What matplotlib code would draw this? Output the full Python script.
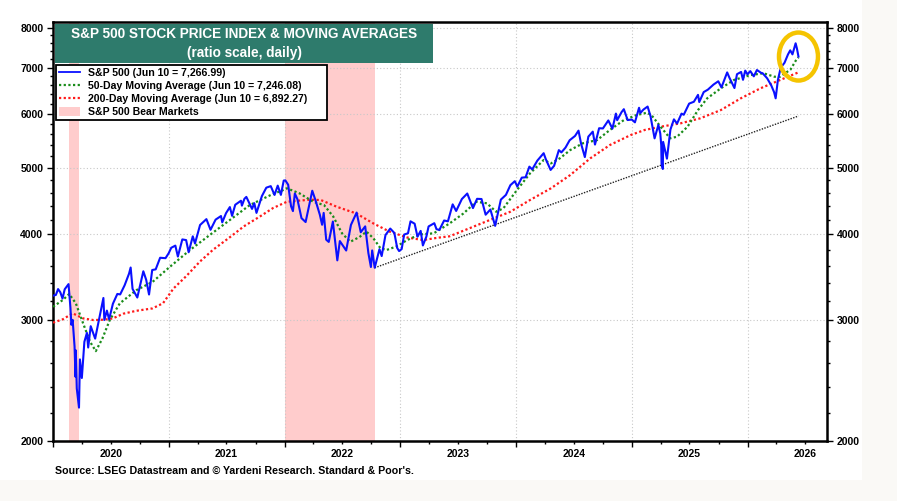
import pandas as pd
import matplotlib
matplotlib.use('Agg')
import matplotlib.pyplot as plt
import matplotlib.dates as mdates
from matplotlib.patches import Rectangle, Ellipse, Patch
from matplotlib.lines import Line2D
from matplotlib.transforms import ScaledTranslation
from matplotlib.ticker import FixedLocator, NullFormatter, FuncFormatter

plt.rcParams['font.family'] = ['Liberation Sans', 'DejaVu Sans']
plt.rcParams['font.weight'] = 'bold'

# S&P 500 index
sp_dates = [
    "2020-01-02", "2020-01-10", "2020-01-17", "2020-01-24", "2020-01-31", "2020-02-07", "2020-02-19", "2020-02-25",
    "2020-02-28", "2020-03-03", "2020-03-09", "2020-03-12", "2020-03-13", "2020-03-16", "2020-03-23", "2020-03-26",
    "2020-04-01", "2020-04-09", "2020-04-17", "2020-04-21", "2020-04-29", "2020-05-13", "2020-05-27", "2020-06-08",
    "2020-06-11", "2020-06-19", "2020-06-26", "2020-07-08", "2020-07-22", "2020-07-31", "2020-08-14", "2020-08-28",
    "2020-09-02", "2020-09-08", "2020-09-23", "2020-10-12", "2020-10-21", "2020-10-30", "2020-11-09", "2020-11-20",
    "2020-12-04", "2020-12-21", "2020-12-31",
    "2021-01-08", "2021-01-21", "2021-01-29", "2021-02-12", "2021-02-24", "2021-03-04", "2021-03-17", "2021-03-24",
    "2021-04-09", "2021-04-29", "2021-05-12", "2021-05-28", "2021-06-14", "2021-06-18", "2021-06-30", "2021-07-12",
    "2021-07-19", "2021-07-29", "2021-08-16", "2021-08-19", "2021-08-27", "2021-09-02", "2021-09-20", "2021-09-27",
    "2021-10-04", "2021-10-21", "2021-11-04", "2021-11-18", "2021-11-30", "2021-12-10", "2021-12-20", "2021-12-29",
    "2022-01-03", "2022-01-12", "2022-01-21", "2022-01-27", "2022-02-02", "2022-02-10", "2022-02-23", "2022-03-08",
    "2022-03-29", "2022-04-08", "2022-04-22", "2022-04-29", "2022-05-04", "2022-05-12", "2022-05-20", "2022-06-02",
    "2022-06-16", "2022-06-24", "2022-07-14", "2022-07-29", "2022-08-16", "2022-08-29", "2022-09-12", "2022-09-22",
    "2022-09-30", "2022-10-04", "2022-10-12", "2022-10-27", "2022-11-03", "2022-11-15", "2022-11-30", "2022-12-13",
    "2022-12-22", "2022-12-28",
    "2023-01-05", "2023-01-13", "2023-01-25", "2023-02-02", "2023-02-15", "2023-02-24", "2023-03-06", "2023-03-13",
    "2023-03-24", "2023-03-31", "2023-04-18", "2023-04-25", "2023-05-04", "2023-05-19", "2023-05-31", "2023-06-15",
    "2023-06-26", "2023-07-14", "2023-07-31", "2023-08-18", "2023-08-31", "2023-09-14", "2023-09-27", "2023-10-12",
    "2023-10-27", "2023-11-14", "2023-11-30", "2023-12-14", "2023-12-28",
    "2024-01-05", "2024-01-19", "2024-01-31", "2024-02-12", "2024-02-21", "2024-03-08", "2024-03-28", "2024-04-04",
    "2024-04-19", "2024-04-30", "2024-05-15", "2024-05-23", "2024-06-05", "2024-06-18", "2024-07-05", "2024-07-16",
    "2024-07-24", "2024-08-05", "2024-08-16", "2024-08-30", "2024-09-06", "2024-09-19", "2024-10-01", "2024-10-18",
    "2024-10-31", "2024-11-11", "2024-11-15", "2024-11-29", "2024-12-06", "2024-12-18", "2024-12-31",
    "2025-01-10", "2025-01-23", "2025-01-27", "2025-02-06", "2025-02-19", "2025-02-28", "2025-03-10", "2025-03-13",
    "2025-03-25", "2025-03-31", "2025-04-03", "2025-04-04", "2025-04-08", "2025-04-09", "2025-04-21", "2025-05-02",
    "2025-05-13", "2025-05-23", "2025-06-06", "2025-06-13", "2025-06-30", "2025-07-15", "2025-07-28", "2025-08-01",
    "2025-08-15", "2025-08-28", "2025-09-15", "2025-09-30", "2025-10-10", "2025-10-28", "2025-11-04", "2025-11-20",
    "2025-11-28", "2025-12-11", "2025-12-17", "2025-12-24", "2025-12-31",
    "2026-01-09", "2026-01-20", "2026-01-30", "2026-02-12", "2026-02-17", "2026-03-03", "2026-03-16", "2026-03-25",
    "2026-03-30", "2026-04-06", "2026-04-15", "2026-04-27", "2026-05-08", "2026-05-15", "2026-05-22", "2026-06-01",
    "2026-06-05", "2026-06-10",
]
sp_close = [
    3258, 3265, 3330, 3295, 3226, 3328, 3386, 3128,
    2954, 3003, 2747, 2481, 2711, 2386, 2237, 2630,
    2471, 2790, 2875, 2737, 2940, 2820, 3036, 3232,
    3002, 3098, 3009, 3170, 3276, 3271, 3373, 3508,
    3580, 3332, 3237, 3535, 3435, 3270, 3550, 3558,
    3699, 3694, 3756,
    3825, 3853, 3714, 3934, 3925, 3768, 3975, 3881,
    4129, 4211, 4063, 4204, 4255, 4166, 4297, 4385,
    4258, 4419, 4479, 4406, 4509, 4537, 4358, 4443,
    4300, 4549, 4680, 4704, 4567, 4712, 4568, 4793,
    4796, 4726, 4398, 4326, 4589, 4504, 4225, 4170,
    4632, 4488, 4272, 4132, 4300, 3930, 3901, 4177,
    3667, 3912, 3790, 4130, 4305, 4030, 4110, 3758,
    3586, 3791, 3577, 3807, 3720, 3992, 4080, 4020,
    3822, 3783,
    3808, 3999, 4016, 4180, 4147, 3970, 4048, 3855,
    3971, 4109, 4154, 4071, 4061, 4192, 4180, 4425,
    4328, 4505, 4589, 4370, 4508, 4505, 4274, 4349,
    4117, 4496, 4568, 4719, 4783,
    4697, 4840, 4846, 5022, 4976, 5124, 5254, 5147,
    4967, 5036, 5308, 5268, 5354, 5487, 5567, 5667,
    5427, 5186, 5554, 5648, 5408, 5713, 5709, 5864,
    5705, 6001, 5870, 6032, 6090, 5872, 5882,
    5827, 6119, 6012, 6083, 6144, 5955, 5614, 5522,
    5777, 5612, 5397, 5074, 4983, 5457, 5158, 5687,
    5886, 5803, 6000, 5977, 6205, 6244, 6390, 6238,
    6450, 6502, 6615, 6688, 6552, 6890, 6771, 6538,
    6849, 6901, 6721, 6932, 6845,
    6920, 6800, 6946, 6880, 6870, 6757, 6598, 6449,
    6316, 6716, 7000, 7117, 7320, 7420, 7320, 7597,
    7470, 7267,
]

# 50-day moving average
ma50_dates = [
    "2020-01-01", "2020-02-01", "2020-02-21", "2020-03-13", "2020-04-05", "2020-04-27", "2020-05-15", "2020-06-05",
    "2020-06-28", "2020-07-30", "2020-09-20", "2020-11-10", "2021-01-04", "2021-03-08", "2021-05-12", "2021-07-13",
    "2021-09-13", "2021-11-18", "2021-12-28", "2022-01-08", "2022-02-17", "2022-04-01", "2022-05-05", "2022-06-03",
    "2022-07-01", "2022-07-27", "2022-08-25", "2022-09-16", "2022-10-08", "2022-10-30", "2022-11-18", "2022-12-20",
    "2023-01-22", "2023-03-03", "2023-04-16", "2023-06-05", "2023-07-19", "2023-08-28", "2023-10-01", "2023-10-30",
    "2023-11-22", "2024-01-04", "2024-02-14", "2024-03-28", "2024-04-20", "2024-05-18", "2024-06-20", "2024-07-30",
    "2024-09-13", "2024-10-23", "2024-12-06", "2025-01-15", "2025-02-17", "2025-03-03", "2025-04-01", "2025-05-01",
    "2025-05-23", "2025-06-25", "2025-07-28", "2025-08-26", "2025-10-08", "2025-11-18", "2026-01-10", "2026-02-20",
    "2026-03-26", "2026-04-13", "2026-05-16", "2026-06-03", "2026-06-10",
]
ma50_values = [
    3138, 3210, 3276, 3175, 2968, 2790, 2704, 2822,
    3001, 3175, 3318, 3411, 3589, 3796, 4000, 4202,
    4415, 4566, 4644, 4670, 4591, 4464, 4415, 4249,
    4015, 3903, 3966, 4038, 3948, 3820, 3796, 3843,
    3925, 4000, 4015, 4150, 4292, 4464, 4441, 4317,
    4367, 4644, 4910, 5135, 5078, 5164, 5310, 5432,
    5491, 5680, 5871, 5971, 6018, 5971, 5742, 5523,
    5553, 5742, 6072, 6316, 6532, 6716, 6830, 6870,
    6791, 6791, 6958, 7188, 7246,
]

# 200-day moving average
ma200_dates = [
    "2020-01-01", "2020-02-01", "2020-03-03", "2020-04-05", "2020-05-08", "2020-06-10", "2020-07-08", "2020-08-10",
    "2020-09-20", "2020-11-10", "2020-12-13", "2021-01-15", "2021-02-25", "2021-04-08", "2021-05-20", "2021-07-13",
    "2021-08-25", "2021-10-15", "2021-11-25", "2022-01-08", "2022-03-22", "2022-04-25", "2022-06-14", "2022-08-15",
    "2022-10-08", "2022-11-28", "2023-01-22", "2023-03-14", "2023-04-27", "2023-06-05", "2023-08-07", "2023-10-12",
    "2023-12-14", "2024-02-14", "2024-04-20", "2024-06-20", "2024-08-22", "2024-10-23", "2024-12-28", "2025-02-10",
    "2025-04-01", "2025-06-03", "2025-08-04", "2025-10-08", "2025-12-10", "2026-02-10", "2026-04-13", "2026-06-10",
]
ma200_values = [
    2975, 3009, 3070, 3018, 3001, 3005, 3018, 3066,
    3096, 3121, 3175, 3336, 3480, 3650, 3800, 3966,
    4110, 4249, 4370, 4464, 4495, 4490, 4390, 4292,
    4150, 4038, 3960, 3925, 3955, 3975, 4084, 4202,
    4317, 4490, 4670, 4883, 5164, 5400, 5585, 5680,
    5742, 5808, 5906, 6072, 6316, 6532, 6716, 6892,
]

bear_starts = ["2020-02-19", "2022-01-03"]
bear_ends = ["2020-03-23", "2022-10-12"]

trend_dates = ["2022-10-12", "2026-06-10"]
trend_values = [3577, 5952]

y_ticks = [2000, 3000, 4000, 5000, 6000, 7000, 8000]

sp_d = pd.to_datetime(sp_dates)
ma50_d = pd.to_datetime(ma50_dates)
ma200_d = pd.to_datetime(ma200_dates)

fig = plt.figure(figsize=(8.97, 5.01), dpi=100, facecolor='#faf9f6')
fig.add_artist(Rectangle((0, 0.042), 0.961, 0.958, transform=fig.transFigure,
                         facecolor='white', edgecolor='none', zorder=-10))
ax = fig.add_axes([53 / 897, 1 - 441 / 501, 774 / 897, 419 / 501])

for s, e in zip(bear_starts, bear_ends):
    ax.axvspan(pd.Timestamp(s), pd.Timestamp(e), color='#ffcccc', lw=0, zorder=0)

ax.plot(pd.to_datetime(trend_dates), trend_values, color='#222222', lw=1.0, ls=(0, (1, 1)), zorder=2)
ax.plot(ma200_d, ma200_values, color='#ff1a1a', lw=1.6, ls=(0, (1, 1.1)), zorder=3)
ax.plot(ma50_d, ma50_values, color='#1a8c1a', lw=1.6, ls=(0, (1, 1.1)), zorder=3)
ax.plot(sp_d, sp_close, color='#0a10ff', lw=1.5, zorder=4)

ax.set_yscale('log')
ax.set_ylim(2000, 8160)
ax.yaxis.set_major_locator(FixedLocator(y_ticks))
ax.yaxis.set_major_formatter(FuncFormatter(lambda v, p: f"{int(v)}"))
ax.yaxis.set_minor_locator(FixedLocator([v for v in range(2200, 8000, 200) if v % 1000]))
ax.yaxis.set_minor_formatter(NullFormatter())

ax.set_xlim(pd.Timestamp("2020-01-01"), pd.Timestamp("2026-09-08"))
ax.xaxis.set_major_locator(mdates.YearLocator())
ax.xaxis.set_major_formatter(NullFormatter())
ax.xaxis.set_minor_locator(mdates.MonthLocator([4, 7, 10]))
ax.xaxis.set_minor_formatter(FuncFormatter(
    lambda v, p: str(mdates.num2date(v).year) if mdates.num2date(v).month == 7 else ''))

ax.tick_params(axis='y', which='both', left=True, right=True, labelleft=True, labelright=True,
               direction='out', labelsize=7.5, width=1)
ax.tick_params(axis='y', which='major', length=4, pad=3)
ax.tick_params(axis='y', which='minor', length=2.5)
ax.tick_params(axis='x', which='major', length=4, width=1)
ax.tick_params(axis='x', which='minor', length=2.5, width=1, labelsize=7.5, pad=3.5)

ax.grid(True, which='major', color='#c8c8c8', ls=(0, (1, 2)), lw=0.8)
for sp in ax.spines.values():
    sp.set_linewidth(1.8)
    sp.set_color('black')

# title box
fig.add_artist(Rectangle((55 / 897, 1 - 63 / 501), 378 / 897, 39 / 501, transform=fig.transFigure,
                         facecolor='#2e7b6c', edgecolor='none', zorder=5))
fig.text(244 / 897, 1 - 34 / 501, "S&P 500 STOCK PRICE INDEX & MOVING AVERAGES", color='white',
         ha='center', va='center', fontsize=9.8, fontweight='bold', zorder=6)
fig.text(244 / 897, 1 - 53 / 501, "(ratio scale, daily)", color='white',
         ha='center', va='center', fontsize=9.8, fontweight='bold', zorder=6)

handles = [
    Line2D([], [], color='#0a10ff', lw=1.3),
    Line2D([], [], color='#1a8c1a', lw=1.6, ls=(0, (1, 1.1))),
    Line2D([], [], color='#ff1a1a', lw=1.6, ls=(0, (1, 1.1))),
    Patch(facecolor='#ffcccc', edgecolor='none'),
]
labels = [
    "S&P 500 (Jun 10 = 7,266.99)",
    "50-Day Moving Average (Jun 10 = 7,246.08)",
    "200-Day Moving Average (Jun 10 = 6,892.27)      ",
    "S&P 500 Bear Markets",
]
leg = ax.legend(handles, labels, loc='upper left', bbox_to_anchor=(56 / 897, 1 - 65 / 501),
                bbox_transform=fig.transFigure, fontsize=7.6, frameon=True, fancybox=False,
                framealpha=1, edgecolor='black', borderaxespad=0, borderpad=0.3,
                labelspacing=0.28, handlelength=2.0, handletextpad=0.7, handleheight=0.9)
leg.get_frame().set_linewidth(1.3)
leg.set_zorder(6)

# yellow circle around latest reading
ring = Ellipse((0, 0), 0.39, 0.48, fill=False, edgecolor='#f5c400', lw=3.2, clip_on=False, zorder=7,
               transform=fig.dpi_scale_trans + ScaledTranslation(mdates.date2num(sp_d[-1]), sp_close[-1], ax.transData))
ax.add_artist(ring)

fig.text(55 / 897, 1 - 471 / 501, "Source: LSEG Datastream and \u00a9 Yardeni Research. Standard & Poor's.",
         ha='left', va='center', fontsize=7.7, fontweight='bold')

fig.savefig('out.png', dpi=100, facecolor=fig.get_facecolor())
